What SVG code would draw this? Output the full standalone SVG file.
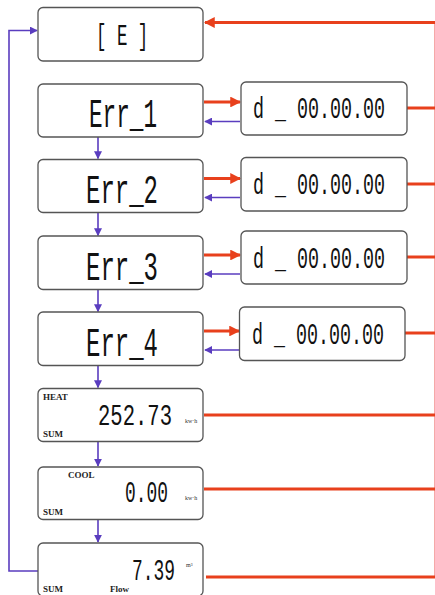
<svg xmlns="http://www.w3.org/2000/svg" width="435" height="595" viewBox="0 0 435 595">
<style>
.box{fill:#fff;stroke:#555;stroke-width:1.3}
.seg{font-family:"Liberation Mono","DejaVu Sans Mono",monospace;fill:#111;font-size:30px}
.big{font-size:40px}
.lbl{font-family:"Liberation Serif",serif;font-weight:bold;font-size:9px;fill:#222}
.unit{font-family:"Liberation Serif",serif;font-size:6px;fill:#333}
.red{stroke:#e8401c;stroke-width:3;fill:none}
.pur{stroke:#5a3dbf;stroke-width:1.6;fill:none}
.pink{stroke:#f6a8a8;stroke-width:1;fill:none}
</style>
<defs>
<marker id="ra" viewBox="0 0 10 10" refX="9" refY="5" markerWidth="3.6" markerHeight="3.6" orient="auto" markerUnits="strokeWidth"><path d="M0,0 L10,5 L0,10 z" fill="#e8401c"/></marker>
<marker id="pa" viewBox="0 0 10 10" refX="9" refY="5" markerWidth="5" markerHeight="5" orient="auto" markerUnits="strokeWidth"><path d="M0,0 L10,5 L0,10 z" fill="#5a3dbf"/></marker>
</defs>
<g id="connectors">
<line class="pink" x1="434.5" y1="22" x2="434.5" y2="577"/>
<line class="red" x1="435" y1="22.5" x2="205" y2="22.5" marker-end="url(#ra)"/>
<line class="red" x1="204" y1="102" x2="240" y2="102" marker-end="url(#ra)"/>
<line class="pur" x1="240" y1="121.5" x2="205" y2="121.5" marker-end="url(#pa)"/>
<line class="red" x1="407" y1="108" x2="435" y2="108"/>
<line class="red" x1="204" y1="178.5" x2="240" y2="178.5" marker-end="url(#ra)"/>
<line class="pur" x1="240" y1="197.5" x2="205" y2="197.5" marker-end="url(#pa)"/>
<line class="red" x1="407" y1="184" x2="435" y2="184"/>
<line class="red" x1="204" y1="255" x2="240" y2="255" marker-end="url(#ra)"/>
<line class="pur" x1="240" y1="274" x2="205" y2="274" marker-end="url(#pa)"/>
<line class="red" x1="407" y1="257" x2="435" y2="257"/>
<line class="red" x1="204" y1="331" x2="239" y2="331" marker-end="url(#ra)"/>
<line class="pur" x1="239" y1="350" x2="205" y2="350" marker-end="url(#pa)"/>
<line class="red" x1="405" y1="333" x2="435" y2="333"/>
<line class="red" x1="204" y1="415" x2="435" y2="415"/>
<line class="red" x1="204" y1="489" x2="435" y2="489"/>
<line class="red" x1="206" y1="577" x2="435" y2="577"/>
<line class="pur" x1="98" y1="137" x2="98" y2="158.5" marker-end="url(#pa)"/>
<line class="pur" x1="98" y1="213" x2="98" y2="235.5" marker-end="url(#pa)"/>
<line class="pur" x1="98" y1="289.5" x2="98" y2="311.5" marker-end="url(#pa)"/>
<line class="pur" x1="98" y1="365.5" x2="98" y2="387.5" marker-end="url(#pa)"/>
<line class="pur" x1="98" y1="441.5" x2="98" y2="466" marker-end="url(#pa)"/>
<line class="pur" x1="98" y1="519.5" x2="98" y2="542" marker-end="url(#pa)"/>
<polyline class="pur" points="38,571 9,571 9,30.5 37,30.5" marker-end="url(#pa)"/>
</g>
<g id="node-E">
<rect class="box" x="38" y="7.5" width="165" height="53.5" rx="5"/>
<text class="seg" transform="translate(96,45) scale(0.58,1)">[ E ]</text>
</g>
<g id="node-err1">
<rect class="box" x="38" y="84" width="165" height="53" rx="5"/>
<text class="seg big" transform="translate(89,127) scale(0.567,1)">Err_1</text>
</g>
<g id="node-d1">
<rect class="box" x="241" y="82" width="166" height="53" rx="5"/>
<text class="seg" transform="translate(253,118) scale(0.611,1)">d _ 00.00.00</text>
</g>
<g id="node-err2">
<rect class="box" x="38" y="159.5" width="165" height="53" rx="5"/>
<text class="seg big" transform="translate(86,203) scale(0.6,1)">Err_2</text>
</g>
<g id="node-d2">
<rect class="box" x="241" y="157.5" width="166" height="53.5" rx="5"/>
<text class="seg" transform="translate(253,194) scale(0.611,1)">d _ 00.00.00</text>
</g>
<g id="node-err3">
<rect class="box" x="38" y="236" width="165" height="53.5" rx="5"/>
<text class="seg big" transform="translate(86,280) scale(0.6,1)">Err_3</text>
</g>
<g id="node-d3">
<rect class="box" x="241" y="231" width="166" height="53" rx="5"/>
<text class="seg" transform="translate(253,268) scale(0.611,1)">d _ 00.00.00</text>
</g>
<g id="node-err4">
<rect class="box" x="38" y="312" width="165" height="53.5" rx="5"/>
<text class="seg big" transform="translate(86,356) scale(0.6,1)">Err_4</text>
</g>
<g id="node-d4">
<rect class="box" x="239.5" y="307" width="165.5" height="53.5" rx="5"/>
<text class="seg" transform="translate(252,344) scale(0.611,1)">d _ 00.00.00</text>
</g>
<g id="node-heat">
<rect class="box" x="38" y="388.5" width="165" height="53" rx="5"/>
<text class="lbl" x="43" y="399.5">HEAT</text>
<text class="seg" transform="translate(98,425) scale(0.685,1)">252.73</text>
<text class="unit" x="185" y="423">kw·h</text>
<text class="lbl" x="43" y="436.5">SUM</text>
</g>
<g id="node-cool">
<rect class="box" x="38" y="467" width="165" height="52.5" rx="5"/>
<text class="lbl" x="68" y="477.5">COOL</text>
<text class="seg" transform="translate(125,502) scale(0.597,1)">0.00</text>
<text class="unit" x="185" y="500">kw·h</text>
<text class="lbl" x="43" y="514.5">SUM</text>
</g>
<g id="node-flow">
<rect class="box" x="38" y="543" width="165" height="53" rx="5"/>
<text class="seg" transform="translate(132,580) scale(0.597,1)">7.39</text>
<text class="unit" x="186" y="567">m³</text>
<text class="lbl" x="43" y="591.5">SUM</text>
<text class="lbl" x="110" y="591.5">Flow</text>
</g>
</svg>
